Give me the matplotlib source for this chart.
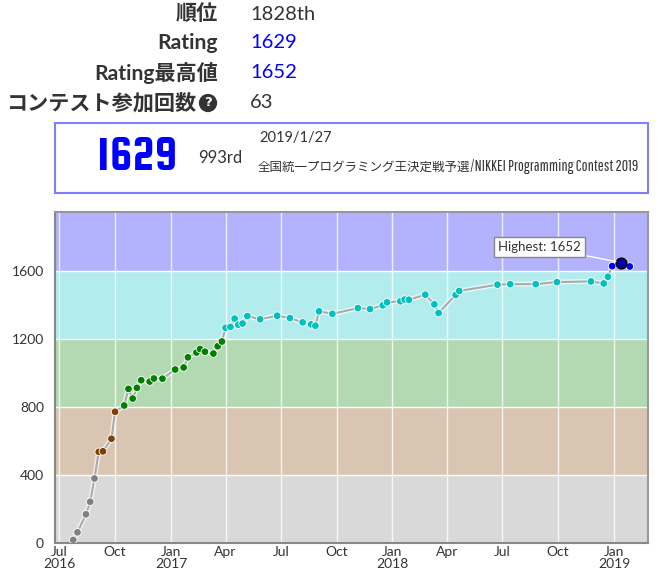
import matplotlib
matplotlib.use('Agg')
import matplotlib.pyplot as plt
import matplotlib.patheffects as pe
from matplotlib.patches import Rectangle
import pandas as pd

# プロフィール情報
info_labels = ['順位', 'Rating', 'Rating最高値', 'コンテスト参加回数']
info_values = ['1828th', '1629', '1652', '63']
info_colors = ['#333333', '#0000FF', '#0000FF', '#333333']

# 最新コンテスト
last_rating = '1629'
last_rank = '993rd'
last_date = '2019/1/27'
contest_jp = '全国統一プログラミング王決定戦予選'
contest_en = '/NIKKEI Programming Contest 2019'

# レーティング推移
dates = [
    '2016-07-24', '2016-07-31', '2016-08-14', '2016-08-21', '2016-08-28',
    '2016-09-04', '2016-09-11', '2016-09-25', '2016-10-01',
    '2016-10-16', '2016-10-23', '2016-10-30', '2016-11-06', '2016-11-13',
    '2016-11-27', '2016-12-04', '2016-12-18', '2017-01-08', '2017-01-22',
    '2017-01-29', '2017-02-12', '2017-02-18', '2017-02-26', '2017-03-12',
    '2017-03-19', '2017-03-26',
    '2017-04-01', '2017-04-09', '2017-04-16', '2017-04-22', '2017-04-29',
    '2017-05-07', '2017-05-28', '2017-06-25', '2017-07-16', '2017-08-06',
    '2017-08-20', '2017-08-27', '2017-09-02', '2017-09-24', '2017-11-05',
    '2017-11-25', '2017-12-16', '2017-12-23', '2018-01-14', '2018-01-21',
    '2018-01-28', '2018-02-24', '2018-03-11', '2018-03-18', '2018-04-15',
    '2018-04-21', '2018-06-23', '2018-07-14', '2018-08-25', '2018-09-29',
    '2018-11-24', '2018-12-15', '2018-12-22',
    '2018-12-29', '2019-01-13', '2019-01-27',
]
ratings = [
    18, 63, 169, 243, 380,
    537, 540, 614, 773,
    810, 908, 851, 914, 959,
    951, 969, 968, 1022, 1034,
    1094, 1122, 1143, 1127, 1116,
    1159, 1187,
    1268, 1273, 1322, 1286, 1293,
    1337, 1318, 1339, 1325, 1300,
    1288, 1280, 1365, 1350, 1384,
    1378, 1400, 1418, 1424, 1434,
    1433, 1463, 1406, 1355, 1461,
    1485, 1522, 1525, 1525, 1537,
    1541, 1529, 1569,
    1631, 1652, 1629,
]

# 色帯
band_edges = [0, 400, 800, 1200, 1600, 2000]
band_colors = ['#D9D9D9', '#D9C5B2', '#B2D9B2', '#B2ECEC', '#B2B2FF']
point_colors = ['#808080', '#804000', '#008000', '#00C0C0', '#0000FF']

y_ticks = [0, 400, 800, 1200, 1600]
x_ticks = ['2016-07-01', '2016-10-01', '2017-01-01', '2017-04-01', '2017-07-01',
           '2017-10-01', '2018-01-01', '2018-04-01', '2018-07-01', '2018-10-01',
           '2019-01-01']
x_tick_labels = ['Jul\n2016', 'Oct', 'Jan\n2017', 'Apr', 'Jul', 'Oct',
                 'Jan\n2018', 'Apr', 'Jul', 'Oct', 'Jan\n2019']

W, H = 662, 575
plt.rcParams['font.family'] = ['Lato', 'Noto Sans CJK JP', 'DejaVu Sans']


def px(x, y):
    return x / W, 1 - y / H


fig = plt.figure(figsize=(W / 100, H / 100), dpi=100)
renderer = fig.canvas.get_renderer()

# 上部の表
rows_y = [14, 43, 73, 103]
for lab, val, col, y in zip(info_labels, info_values, info_colors, rows_y):
    xl = 218 if lab != 'コンテスト参加回数' else 197
    fig.text(*px(xl, y), lab, ha='right', va='center', fontsize=15.2,
             fontweight='bold', color='#333333')
    fig.text(*px(250, y), val, ha='left', va='center', fontsize=14.5, color=col)
fig.text(*px(208, 103), '?', ha='center', va='center', fontsize=9.5,
         fontweight='bold', color='white', family=['DejaVu Sans'],
         bbox=dict(boxstyle='circle,pad=0.2', fc='#333333', ec='none'))

# 最新コンテストの枠
x0, y0 = px(55, 193)
x1, y1 = px(648, 123)
fig.patches.append(Rectangle((x0, y0), x1 - x0, y1 - y0, transform=fig.transFigure,
                             fill=False, ec='#7F7FFF', lw=1.5))
fig.text(*px(137, 158), last_rating, ha='center', va='center', fontsize=35,
         color='#0000FF', family=['Squada One', 'DejaVu Sans'])
fig.text(*px(198, 158), last_rank, ha='left', va='center', fontsize=12,
         color='#333333')
fig.text(*px(259, 138), last_date, ha='left', va='center', fontsize=10.5,
         color='#333333')

# コンテスト名: 日本語部分の右端に英語部分をつなげる
t_jp = fig.text(*px(258, 167), contest_jp, ha='left', va='center', fontsize=9,
                color='#333333', family=['Noto Sans CJK JP'])
jp_right = t_jp.get_window_extent(renderer).x1
t_en = fig.text(jp_right / W, 1 - 166 / H, contest_en, ha='left', va='center',
                fontsize=12.5, color='#333333',
                family=['Pathway Gothic One', 'DejaVu Sans'])
en_w = t_en.get_window_extent(renderer).width
t_en.set_fontsize(12.5 * (638 - jp_right) / en_w)

# レーティンググラフ
ax = fig.add_axes([55 / W, 1 - 543 / H, (648 - 55) / W, (543 - 212) / H])
d = pd.to_datetime(dates)
for lo, hi, c in zip(band_edges[:-1], band_edges[1:], band_colors):
    ax.axhspan(lo, hi, color=c, lw=0, zorder=0)
for y in band_edges[1:-1]:
    ax.axhline(y, color='white', lw=1, zorder=1)
for t in pd.to_datetime(x_ticks):
    ax.axvline(t, color='white', lw=1, alpha=0.8, zorder=1)

ax.plot(d, ratings, color='#AAAAAA', lw=1.5, zorder=2,
        path_effects=[pe.Stroke(linewidth=3.5, foreground='white', alpha=0.7),
                      pe.Normal()])


def color_of(r):
    for i in range(len(point_colors)):
        if r < band_edges[i + 1]:
            return point_colors[i]
    return point_colors[-1]


cols = [color_of(r) for r in ratings]
ax.scatter(d, ratings, s=30, c=cols, edgecolors='white', linewidths=0.6,
           zorder=3)

best = ratings.index(max(ratings))
ax.scatter([d[best]], [ratings[best]], s=60, c='#0000A0', edgecolors='black',
           linewidths=1, zorder=4)
ax.annotate('Highest: %d' % ratings[best], xy=(d[best], ratings[best]),
            xytext=(-82, 16), textcoords='offset pixels', ha='center',
            va='center', fontsize=9.5, color='#333333', zorder=5,
            bbox=dict(boxstyle='square,pad=0.3', fc='white', ec='#888888', lw=1),
            arrowprops=dict(arrowstyle='-', color='white', lw=1,
                            shrinkA=0, shrinkB=4))

ax.set_ylim(0, 1950)
ax.set_xlim(pd.Timestamp('2016-06-24'), pd.Timestamp('2019-02-26'))
ax.set_yticks(y_ticks)
ax.set_xticks(pd.to_datetime(x_ticks))
ax.set_xticklabels(x_tick_labels)
ax.tick_params(length=0, labelsize=10, labelcolor='#333333')
ax.tick_params(axis='y', pad=8)
ax.tick_params(axis='x', pad=2)
for t in ax.get_xticklabels():
    t.set_linespacing(1.0)
for s in ax.spines.values():
    s.set_color('#999999')
    s.set_linewidth(1.5)
ax.spines['left'].set_color('#888888')
ax.spines['bottom'].set_color('#888888')

fig.savefig('out.png', dpi=100)
plt.close(fig)
